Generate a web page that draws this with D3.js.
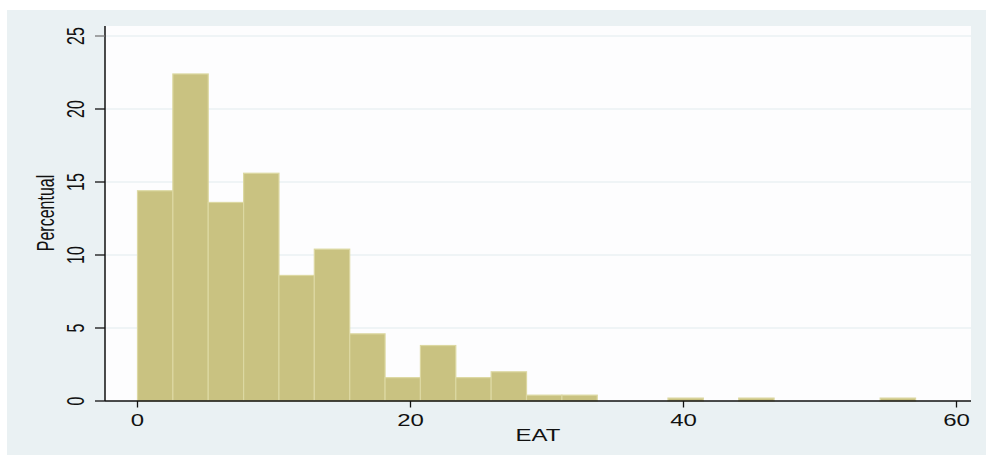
<!DOCTYPE html>
<html>
<head>
<meta charset="utf-8">
<script src="https://cdn.jsdelivr.net/npm/d3@7"></script>
<style>
  body { margin: 0; background: #fff; }
  svg { display: block; font-family: "Liberation Sans", Arial, sans-serif; }
</style>
</head>
<body>
<div id="chart"></div>
<script>
// histogram of EAT, 22 bins from 0 to 57
const binCount = 22;
const eatMax = 57;
const percents = [14.4, 22.4, 13.6, 15.6, 8.6, 10.4, 4.6, 1.6, 3.8, 1.6, 2.0,
                  0.4, 0.4, 0, 0, 0.2, 0, 0.2, 0, 0, 0, 0.2];
const xTicks = [0, 20, 40, 60];
const yTicks = [0, 5, 10, 15, 20, 25];

const width = 986, height = 455;
const plot = { left: 105, right: 971, top: 26, bottom: 401 };
const stretch = 1.5; // text in the picture is drawn wider than normal

const svg = d3.select("#chart").append("svg")
    .attr("width", width)
    .attr("height", height);

// outer background
svg.append("rect")
   .attr("x", 7).attr("y", 10)
   .attr("width", width - 7).attr("height", height - 10)
   .attr("fill", "#eaf1f3");

// plot region
svg.append("rect")
   .attr("x", plot.left).attr("y", plot.top)
   .attr("width", plot.right - plot.left).attr("height", plot.bottom - plot.top)
   .attr("fill", "#fdfdfe");

const x = d3.scaleLinear().domain([0, 60]).range([137.5, 956.5]);
const y = d3.scaleLinear().domain([0, 25]).range([plot.bottom, 36]);

// gridlines
svg.append("g")
   .selectAll("line")
   .data(yTicks.filter(d => d > 0))
   .enter().append("line")
   .attr("x1", plot.left).attr("x2", plot.right)
   .attr("y1", d => y(d)).attr("y2", d => y(d))
   .attr("stroke", "#eaf1f3")
   .attr("stroke-width", 1.5);

// bars
const binWidth = eatMax / binCount;
svg.append("g")
   .selectAll("rect")
   .data(percents.map((p, i) => ({ x0: i * binWidth, x1: (i + 1) * binWidth, p: p })).filter(d => d.p > 0))
   .enter().append("rect")
   .attr("x", d => x(d.x0))
   .attr("y", d => y(d.p))
   .attr("width", d => x(d.x1) - x(d.x0))
   .attr("height", d => y(0) - y(d.p))
   .attr("fill", "#c9c281")
   .attr("stroke", "#dcd8a2")
   .attr("stroke-width", 1.2);

// y axis
const yAxis = svg.append("g");
yAxis.append("line")
   .attr("x1", plot.left).attr("x2", plot.left)
   .attr("y1", plot.top).attr("y2", plot.bottom)
   .attr("stroke", "#111").attr("stroke-width", 1.5);
yAxis.selectAll(".tick")
   .data(yTicks)
   .enter().append("line")
   .attr("x1", 95).attr("x2", plot.left)
   .attr("y1", d => y(d)).attr("y2", d => y(d))
   .attr("stroke", d => d === 25 ? "#777" : "#111")
   .attr("stroke-width", 1.3);
yAxis.selectAll("text")
   .data(yTicks)
   .enter().append("text")
   .attr("transform", d => `translate(83.5,${y(d)}) scale(${stretch},1) rotate(-90)`)
   .attr("text-anchor", "middle")
   .attr("font-size", "16px")
   .attr("fill", "#111")
   .text(d => d);

svg.append("text")
   .attr("transform", `translate(54,213) scale(${stretch},1) rotate(-90)`)
   .attr("text-anchor", "middle")
   .attr("font-size", "16px")
   .attr("fill", "#111")
   .text("Percentual");

// x axis
const xAxis = svg.append("g");
xAxis.append("line")
   .attr("x1", plot.left).attr("x2", plot.right)
   .attr("y1", plot.bottom).attr("y2", plot.bottom)
   .attr("stroke", "#111").attr("stroke-width", 1.5);
xAxis.selectAll(".tick")
   .data(xTicks)
   .enter().append("line")
   .attr("x1", d => x(d)).attr("x2", d => x(d))
   .attr("y1", plot.bottom).attr("y2", 407.5)
   .attr("stroke", "#111").attr("stroke-width", 1.3);
xAxis.selectAll("text")
   .data(xTicks)
   .enter().append("text")
   .attr("transform", d => `translate(${x(d)},426) scale(${stretch},1)`)
   .attr("text-anchor", "middle")
   .attr("font-size", "16px")
   .attr("fill", "#111")
   .text(d => d);

svg.append("text")
   .attr("transform", `translate(538,441) scale(${stretch},1)`)
   .attr("text-anchor", "middle")
   .attr("font-size", "16px")
   .attr("fill", "#111")
   .text("EAT");
</script>
</body>
</html>
